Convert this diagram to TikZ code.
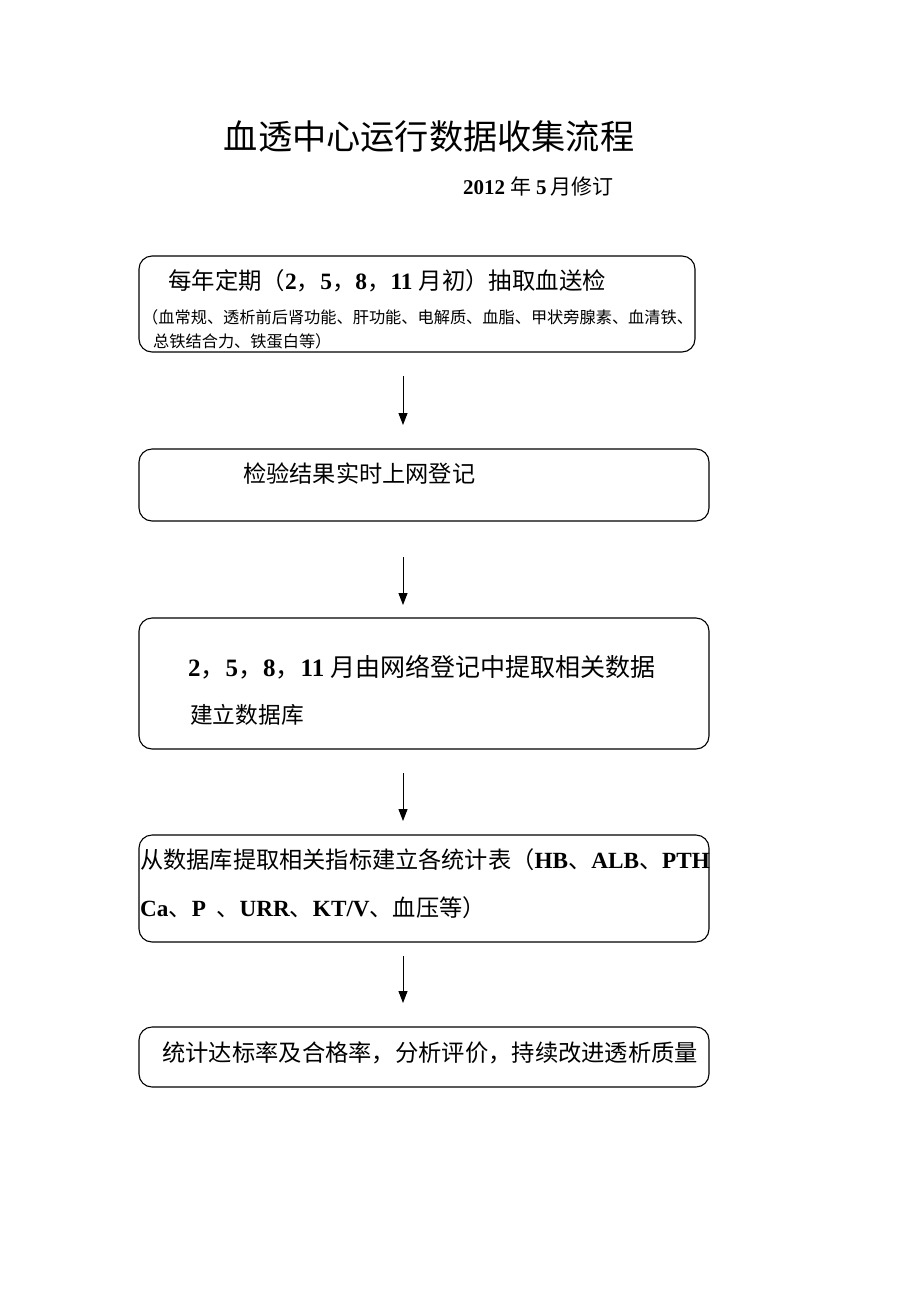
\documentclass[tikz,border=0pt]{standalone}
\usepackage{fontspec}
\setmainfont{Noto Sans CJK SC}
\newfontfamily\tnr{Liberation Serif}
\newcommand\Bn[1]{{\tnr\bfseries #1}}
\usetikzlibrary{arrows.meta}
\tikzset{
  box/.style={draw=black, line width=1.1pt, rounded corners=13pt, inner sep=0pt},
  txt/.style={anchor=west, inner sep=0pt},
  arr/.style={line width=1pt, -{Triangle[width=9pt,length=12pt]}},
}
\begin{document}
\begin{tikzpicture}[x=1pt,y=-1pt]
\useasboundingbox (0,0) rectangle (920,1302);
% title
\node[inner sep=0pt] (title) at (429,137) {\fontsize{34.2}{38}\selectfont 血透中心运行数据收集流程};
\node[txt] (sub) at (463,186) {\fontsize{21}{24}\selectfont\Bn{2012}\hspace{5pt}年\hspace{5pt}\Bn{5}\hspace{4pt}月修订};
% boxes
\node[box, minimum width=556pt, minimum height=96pt] (b1) at (417,304) {};
\node[box, minimum width=570pt, minimum height=72pt] (b2) at (424,485) {};
\node[box, minimum width=570pt, minimum height=131pt] (b3) at (424,683.5) {};
\node[box, minimum width=570pt, minimum height=107pt] (b4) at (424,888.5) {};
\node[box, minimum width=570pt, minimum height=60pt] (b5) at (424,1057) {};
% texts
\node[txt] (t1a) at (168,281) {\fontsize{23.4}{26}\selectfont 每年定期（\Bn{2}，\Bn{5}，\Bn{8}，\Bn{11}\hspace{6pt}月初）抽取血送检};
\node[txt] (t1b) at (142,317) {\fontsize{16.2}{18}\selectfont （血常规、透析前后肾功能、肝功能、电解质、血脂、甲状旁腺素、血清铁、};
\node[txt] (t1c) at (153,341) {\fontsize{16.2}{18}\selectfont 总铁结合力、铁蛋白等）};
\node[txt] (t2) at (243,474) {\fontsize{23.2}{26}\selectfont 检验结果实时上网登记};
\node[txt] (t3a) at (188,667) {\fontsize{25}{30}\selectfont \Bn{2}，\Bn{5}，\Bn{8}，\Bn{11}\hspace{6pt}月由网络登记中提取相关数据};
\node[txt] (t3b) at (190,715) {\fontsize{22.7}{26}\selectfont 建立数据库};
\node[txt] (t4a) at (140,860) {\fontsize{23.2}{26}\selectfont 从数据库提取相关指标建立各统计表（\Bn{HB}、\Bn{ALB}、\Bn{PTH}};
\node[txt] (t4b) at (140,908) {\fontsize{23.2}{26}\selectfont \Bn{Ca}、\Bn{P} \ 、\Bn{URR}、\Bn{KT/V}、血压等）};
\node[txt] (t5) at (162,1053) {\fontsize{23.3}{26}\selectfont 统计达标率及合格率，分析评价，持续改进透析质量};
% arrows
\coordinate (a1s) at (403,376); \coordinate (a1e) at (403,425);
\coordinate (a2s) at (403,557); \coordinate (a2e) at (403,605);
\coordinate (a3s) at (403,773); \coordinate (a3e) at (403,821);
\coordinate (a4s) at (403,956); \coordinate (a4e) at (403,1003);
\draw[arr] (a1s) -- (a1e);
\draw[arr] (a2s) -- (a2e);
\draw[arr] (a3s) -- (a3e);
\draw[arr] (a4s) -- (a4e);
\end{tikzpicture}
\end{document}
